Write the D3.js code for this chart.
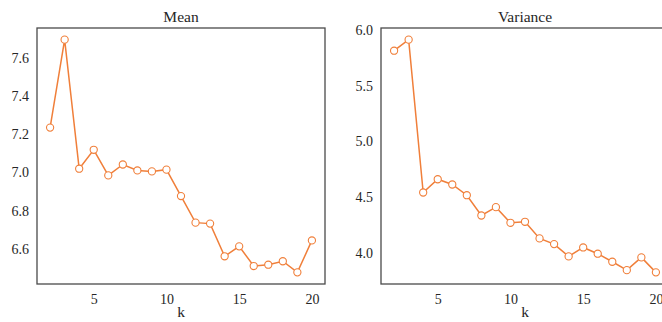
<!DOCTYPE html>
<html>
<head>
<meta charset="utf-8">
<script src="https://cdn.jsdelivr.net/npm/d3@7"></script>
<style>
  body { margin: 0; background: #fff; }
</style>
</head>
<body>
<div id="chart"></div>
<script>
// k values shared by both panels
var ks = [2, 3, 4, 5, 6, 7, 8, 9, 10, 11, 12, 13, 14, 15, 16, 17, 18, 19, 20];

var meanValues = [7.234, 7.694, 7.019, 7.118, 6.984, 7.041, 7.010, 7.005, 7.014, 6.876,
                  6.737, 6.732, 6.561, 6.613, 6.510, 6.517, 6.535, 6.477, 6.644];

var varianceValues = [5.812, 5.911, 4.542, 4.661, 4.614, 4.518, 4.336, 4.411, 4.271, 4.280,
                      4.131, 4.080, 3.970, 4.050, 3.994, 3.922, 3.847, 3.961, 3.827];

var xTicks = [5, 10, 15, 20];
var meanTicks = [6.6, 6.8, 7.0, 7.2, 7.4, 7.6];
var varianceTicks = [4.0, 4.5, 5.0, 5.5, 6.0];

var width = 662, height = 322;
var lineColor = "#f07f3a";
var textColor = "#262626";
var serif = "'Liberation Serif', 'DejaVu Serif', serif";

var svg = d3.select("#chart").append("svg")
    .attr("width", width)
    .attr("height", height);

// pad a domain by 5% on each side, like matplotlib does
function padded(values) {
  var ext = d3.extent(values), m = (ext[1] - ext[0]) * 0.05;
  return [ext[0] - m, ext[1] + m];
}

function drawPanel(left, title, values, yTicks, yFormat) {
  var top = 28, bottom = 284, panelWidth = 288;

  var x = d3.scaleLinear().domain(padded(ks)).range([left, left + panelWidth]);
  var y = d3.scaleLinear().domain(padded(values)).range([bottom, top]);

  var g = svg.append("g");

  // frame
  g.append("rect")
      .attr("x", left).attr("y", top)
      .attr("width", panelWidth).attr("height", bottom - top)
      .attr("fill", "none")
      .attr("stroke", "#4a4a4a")
      .attr("stroke-width", 1.3);

  // x axis labels
  var xAxis = d3.axisBottom(x).tickValues(xTicks).tickSize(0).tickPadding(10)
      .tickFormat(d3.format("d"));
  var xg = g.append("g").attr("transform", "translate(0," + bottom + ")").call(xAxis);
  xg.select(".domain").remove();
  xg.attr("font-family", serif).attr("font-size", 14);
  xg.selectAll("text").attr("fill", textColor);

  // y axis labels
  var yAxis = d3.axisLeft(y).tickValues(yTicks).tickSize(0).tickPadding(8)
      .tickFormat(d3.format(yFormat));
  var yg = g.append("g").attr("transform", "translate(" + left + ",0)").call(yAxis);
  yg.select(".domain").remove();
  yg.attr("font-family", serif).attr("font-size", 14);
  yg.selectAll("text").attr("fill", textColor);

  // title
  g.append("text")
      .attr("x", left + panelWidth / 2)
      .attr("y", 22)
      .attr("text-anchor", "middle")
      .attr("font-family", serif)
      .attr("font-size", 15.5)
      .attr("fill", textColor)
      .text(title);

  // x label
  g.append("text")
      .attr("x", left + panelWidth / 2)
      .attr("y", 317)
      .attr("text-anchor", "middle")
      .attr("font-family", serif)
      .attr("font-size", 15.5)
      .attr("fill", textColor)
      .text("k");

  var pts = ks.map(function(k, i) { return [k, values[i]]; });

  var line = d3.line()
      .x(function(d) { return x(d[0]); })
      .y(function(d) { return y(d[1]); });

  g.append("path")
      .datum(pts)
      .attr("d", line)
      .attr("fill", "none")
      .attr("stroke", lineColor)
      .attr("stroke-width", 1.5);

  g.selectAll("circle")
      .data(pts)
      .enter().append("circle")
      .attr("cx", function(d) { return x(d[0]); })
      .attr("cy", function(d) { return y(d[1]); })
      .attr("r", 3.6)
      .attr("fill", "#fff")
      .attr("stroke", lineColor)
      .attr("stroke-width", 1.1);
}

drawPanel(37, "Mean", meanValues, meanTicks, ".1f");
drawPanel(381, "Variance", varianceValues, varianceTicks, ".1f");
</script>
</body>
</html>
